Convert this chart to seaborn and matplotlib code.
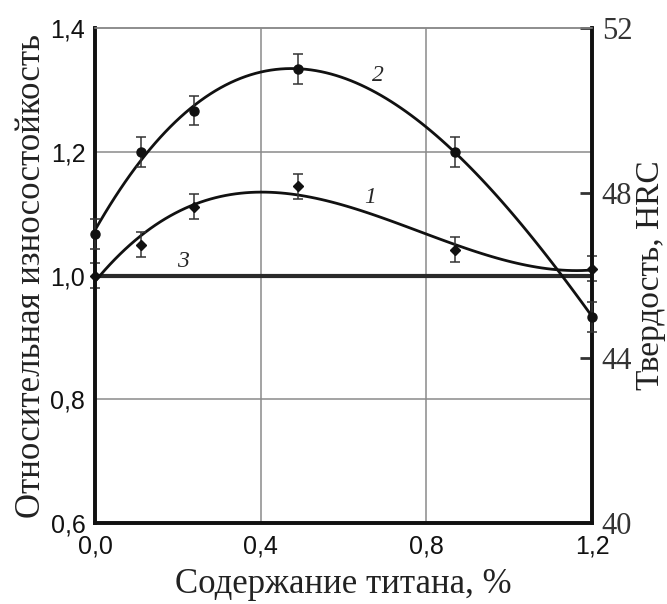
import numpy as np
import pandas as pd
import matplotlib
matplotlib.use("Agg")
import matplotlib.pyplot as plt
import seaborn as sns
from matplotlib import font_manager

# Titanium content, %
titanium = [0.0, 0.11, 0.24, 0.49, 0.87, 1.2]
# Curve 1: relative wear resistance
wear = [1.0, 1.05, 1.111, 1.144, 1.042, 1.011]
wear_err = [0.02, 0.02, 0.02, 0.02, 0.02, 0.02]
# Curve 2: hardness, HRC
hardness = [47.0, 49.0, 50.0, 51.0, 49.0, 45.0]
hardness_err = [0.36, 0.36, 0.36, 0.36, 0.36, 0.36]
# Curve 3: reference level
ref_x = [0.0, 1.2]
ref_y = [1.0, 1.0]

x_ticks = [0.0, 0.4, 0.8, 1.2]
x_ticklabels = ["0,0", "0,4", "0,8", "1,2"]
y_ticks = [0.6, 0.8, 1.0, 1.2, 1.4]
y_ticklabels = ["0,6", "0,8", "1,0", "1,2", "1,4"]
hrc_ticks = [40, 44, 48, 52]

sns.set_theme(style="white")
installed = {f.name for f in font_manager.fontManager.ttflist}
sans = ["Liberation Sans Narrow", "Liberation Sans", "DejaVu Sans"]
sans = [f for f in sans if f in installed] or ["DejaVu Sans"]
serif = ["Liberation Serif", "DejaVu Serif"]
plt.rcParams["font.family"] = serif

df1 = pd.DataFrame({"x": titanium, "y": wear})
df2 = pd.DataFrame({"x": titanium, "y": hardness})

fig = plt.figure(figsize=(6.67, 6.04), dpi=100)
ax = fig.add_axes([0.1424, 0.1341, 0.7452, 0.8195])
ax2 = ax.twinx()

ax.set_xlim(0, 1.2)
ax.set_ylim(0.6, 1.4)
ax2.set_ylim(40, 52)

# grid
for xv in [0.4, 0.8]:
    ax.axvline(xv, color="#8a8a8a", lw=1.1, zorder=0)
for yv in [0.8, 1.2]:
    ax.axhline(yv, color="#8a8a8a", lw=1.1, zorder=0)

# curve 3
sns.lineplot(data=pd.DataFrame({"x": ref_x, "y": ref_y}), x="x", y="y", ax=ax,
             color="#2a2a2a", lw=3.0, zorder=2)

# curve 1: fit and measured points
sns.regplot(data=df1, x="x", y="y", order=3, ci=None, scatter=False, ax=ax,
            line_kws=dict(color="#111111", lw=2.0))
ax.errorbar(titanium, wear, yerr=wear_err, fmt="D", ms=5.5, color="#111111",
            ecolor="#333333", elinewidth=1.1, capsize=3.8, capthick=1.1,
            clip_on=False, zorder=5)

# curve 2: fit and measured points
sns.regplot(data=df2, x="x", y="y", order=3, ci=None, scatter=False, ax=ax2,
            line_kws=dict(color="#111111", lw=2.0))
ax2.errorbar(titanium, hardness, yerr=hardness_err, fmt="o", ms=6.5, color="#111111",
             ecolor="#333333", elinewidth=1.1, capsize=3.8, capthick=1.1,
             clip_on=False, zorder=5)

# curve numbers
ax.text(0.683, 1.324, "2", fontsize=17, style="italic", ha="center", va="center")
ax.text(0.664, 1.126, "1", fontsize=17, style="italic", ha="center", va="center")
ax.text(0.213, 1.023, "3", fontsize=17, style="italic", ha="center", va="center")

# axes styling
ax.set_xticks(x_ticks)
ax.set_xticklabels(x_ticklabels, family=sans, fontsize=18)
ax.set_yticks(y_ticks)
ax.set_yticklabels(y_ticklabels, family=sans, fontsize=18)
ax.tick_params(axis="x", length=0, pad=8, colors="#111111")
ax.tick_params(axis="y", length=0, pad=7, colors="#111111")
ax.set_xlabel("Содержание титана, %", fontsize=25, labelpad=7, color="#222222")
ax.set_ylabel("Относительная износостойкость", fontsize=25, labelpad=2, color="#222222")

ax2.set_yticks(hrc_ticks)
ax2.set_yticklabels([str(t) for t in hrc_ticks], fontsize=22)
ax2.tick_params(axis="y", direction="in", length=9, width=2, pad=7, colors="#333333")
ax2.set_ylabel("Твердость, HRC", fontsize=24, labelpad=2, color="#222222")
ax2.set_xlim(0, 1.2)

for a in (ax, ax2):
    a.spines["top"].set_color("#8a8a8a")
    a.spines["top"].set_linewidth(1.1)
    for s in ("left", "bottom", "right"):
        a.spines[s].set_color("#111111")
        a.spines[s].set_linewidth(2.6)

fig.savefig("out.png", dpi=100)
